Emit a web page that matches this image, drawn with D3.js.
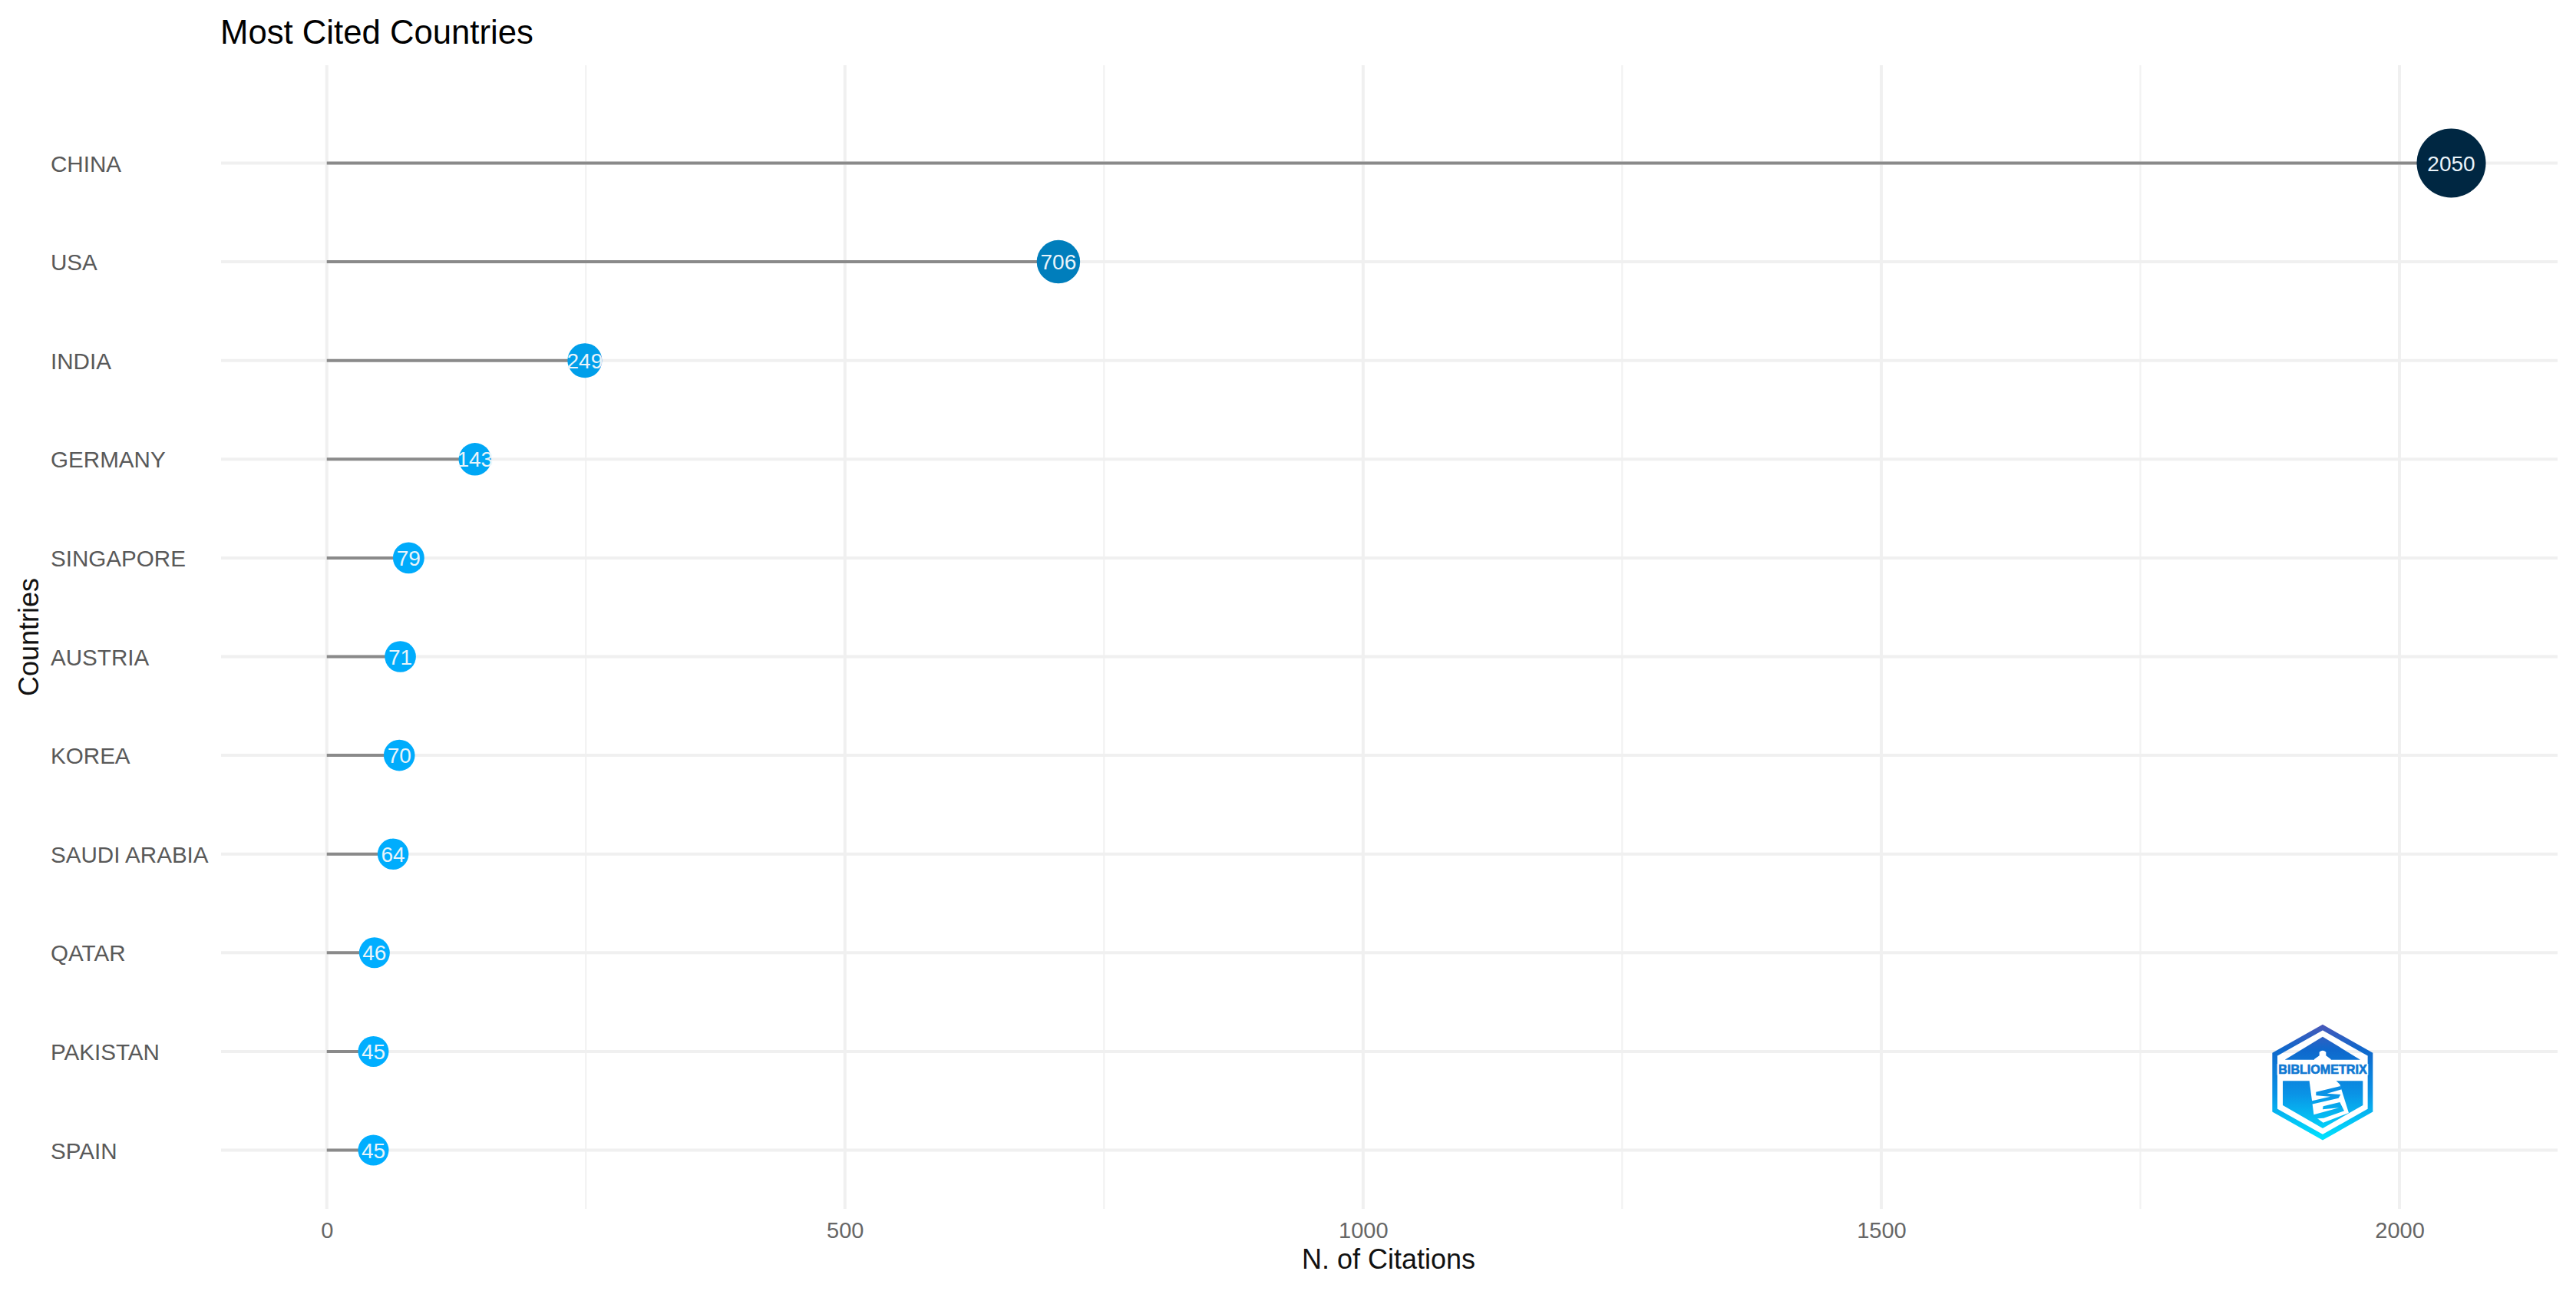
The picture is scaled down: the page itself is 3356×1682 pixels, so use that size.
<!DOCTYPE html>
<html>
<head>
<meta charset="utf-8">
<script src="https://cdn.jsdelivr.net/npm/d3@7"></script>
<style>
html,body{margin:0;padding:0;background:#fff;}
svg{display:block;}
text{font-family:"Liberation Sans",Arial,sans-serif;}
</style>
</head>
<body>
<div id="chart"></div>
<script>
const countries = ["CHINA","USA","INDIA","GERMANY","SINGAPORE","AUSTRIA","KOREA","SAUDI ARABIA","QATAR","PAKISTAN","SPAIN"];
const citations = [2050,706,249,143,79,71,70,64,46,45,45];
const majorTicks = [0,500,1000,1500,2000];
const minorTicks = [250,750,1250,1750];
const chartTitle = "Most Cited Countries";
const xTitle = "N. of Citations";
const yTitle = "Countries";

const W = 3356, H = 1682;
const panel = {left:288, right:3332, top:85, bottom:1575};
const svg = d3.select("#chart").append("svg").attr("width",W).attr("height",H).attr("viewBox",[0,0,W,H]);

const x = d3.scaleLinear().domain([0,2000]).range([425.7,3126]);
const y = d3.scalePoint().domain(countries).range([212.5,1498.5]);
const colour = d3.scaleLinear().domain([45,2050]).range(["#00aeff","#002742"]).interpolate(d3.interpolateLab);
const radius = d3.scaleLinear().domain([45,2050]).range([20,45]);

// grid
const grid = svg.append("g").attr("fill","none");
grid.selectAll(".minor").data(minorTicks).join("line").attr("class","minor")
  .attr("x1",x).attr("x2",x).attr("y1",panel.top).attr("y2",panel.bottom)
  .attr("stroke","#f2f2f2").attr("stroke-width",2.2);
grid.selectAll(".hmajor").data(countries).join("line").attr("class","hmajor")
  .attr("x1",panel.left).attr("x2",panel.right).attr("y1",y).attr("y2",y)
  .attr("stroke","#f0f0f0").attr("stroke-width",4);
grid.selectAll(".vmajor").data(majorTicks).join("line").attr("class","vmajor")
  .attr("x1",x).attr("x2",x).attr("y1",panel.top).attr("y2",panel.bottom)
  .attr("stroke","#f0f0f0").attr("stroke-width",4);

// axes
const xAxis = svg.append("g").attr("transform",`translate(0,${panel.bottom})`)
  .call(d3.axisBottom(x).tickValues(majorTicks).tickFormat(d3.format("d")).tickSize(0).tickPadding(0));
xAxis.select(".domain").remove();
xAxis.selectAll("text").attr("y",38).attr("dy",0).attr("font-size",29).attr("fill","#666666")
  .style("font-family",'"Liberation Sans",Arial,sans-serif');

const yAxis = svg.append("g").attr("transform","translate(66,0)")
  .call(d3.axisLeft(y).tickSize(0).tickPadding(0));
yAxis.select(".domain").remove();
yAxis.selectAll("text").attr("x",0).attr("dy","0.36em").attr("text-anchor","start")
  .attr("font-size",29.6).attr("fill","#595959")
  .style("font-family",'"Liberation Sans",Arial,sans-serif');

// stems
const rows = countries.map((c,i)=>({country:c,value:citations[i]}));
svg.append("g").selectAll("line").data(rows).join("line")
  .attr("x1",x(0)).attr("x2",d=>x(d.value))
  .attr("y1",d=>y(d.country)).attr("y2",d=>y(d.country))
  .attr("stroke","#8a8a8a").attr("stroke-width",4);

// points
svg.append("g").selectAll("circle").data(rows).join("circle")
  .attr("cx",d=>x(d.value)).attr("cy",d=>y(d.country)).attr("r",d=>radius(d.value))
  .attr("fill",d=>colour(d.value));

// value labels
svg.append("g").selectAll("text").data(rows).join("text")
  .attr("x",d=>x(d.value)).attr("y",d=>y(d.country)).attr("dy","0.36em")
  .attr("text-anchor","middle").attr("font-size",28).attr("fill","#eaf4fa")
  .text(d=>d.value);

// titles
svg.append("text").attr("x",287).attr("y",57).attr("font-size",43.7).attr("fill","#000").text(chartTitle);
svg.append("text").attr("x",(panel.left+panel.right)/2-1).attr("y",1653).attr("text-anchor","middle")
  .attr("font-size",36).attr("fill","#111").text(xTitle);
svg.append("text").attr("transform","translate(50,830) rotate(-90)").attr("text-anchor","middle")
  .attr("font-size",36).attr("fill","#111").text(yTitle);

// logo
const defs = svg.append("defs");
const grad = defs.append("linearGradient").attr("id","logoGrad").attr("gradientUnits","userSpaceOnUse")
  .attr("x1",0).attr("x2",0).attr("y1",105).attr("y2",555);
[[0,"#4a58b8"],[0.22,"#0f68cc"],[0.6,"#0a93e6"],[1,"#00e4ff"]].forEach(s=>grad.append("stop").attr("offset",s[0]).attr("stop-color",s[1]));
const logo = svg.append("g").attr("transform","translate(2900,1300) scale(0.3333)");
const G = "url(#logoGrad)";
logo.append("path").attr("d","M378,116 L564,221 L564,440 L378,545 L191,440 L191,221 Z")
  .attr("fill","none").attr("stroke",G).attr("stroke-width",20).attr("stroke-linejoin","miter");
logo.append("path").attr("d","M378,152 L525,242 L230,242 Z").attr("fill",G);
logo.append("path").attr("d","M222,325 L535,325 L535,420 L378,510 L222,420 Z").attr("fill",G);
// beams cut the shoulders of the lower shape
logo.append("path").attr("d","M222,304 L330,304 L222,325 Z M535,304 L430,304 L535,325 Z").attr("fill","#fff");
// lighthouse
logo.append("path").attr("d","M365,212 Q378,200 391,212 L391,226 L410,240 L410,262 L345,262 L345,240 L365,226 Z").attr("fill","#fff");
logo.append("path").attr("d","M325,318 L345,300 L420,300 L428,322 L445,338 L480,450 L380,488 L344,462 Z").attr("fill","#fff");
logo.append("path").attr("d","M352,368 L448,345 L452,358 L395,374 L448,378 L440,392 L335,416 L330,404 L408,386 L352,382 Z").attr("fill",G);
logo.append("path").attr("d","M380,424 L445,408 L462,442 L382,470 L328,474 L332,460 L442,430 L378,436 Z").attr("fill",G);
logo.append("rect").attr("x",200).attr("y",258).attr("width",356).attr("height",44).attr("fill","#fff");
logo.append("text").attr("x",378).attr("y",297).attr("text-anchor","middle").attr("font-size",49)
  .attr("font-weight","bold").attr("textLength",346).attr("lengthAdjust","spacingAndGlyphs")
  .attr("fill","#0f78d2").attr("stroke","#0f78d2").attr("stroke-width",2).text("BIBLIOMETRIX");
</script>
</body>
</html>
